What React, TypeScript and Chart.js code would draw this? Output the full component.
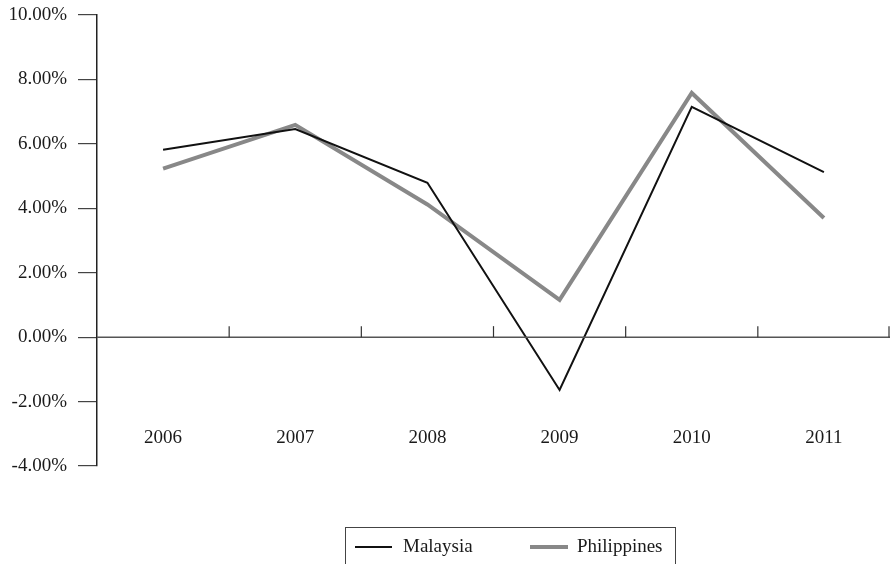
import React, { useEffect, useRef } from "react";
import { Chart, registerables } from "chart.js";

Chart.register(...registerables);

const years = ["2006", "2007", "2008", "2009", "2010", "2011"];
const malaysia = [5.82, 6.46, 4.79, -1.64, 7.15, 5.12];
const philippines = [5.23, 6.59, 4.12, 1.16, 7.58, 3.7];
const yTicks = [-4, -2, 0, 2, 4, 6, 8, 10];
const seriesNames = ["Malaysia", "Philippines"];

const FONT = '"Liberation Serif", "Times New Roman", serif';

const axisPlugin = {
  id: "customAxis",
  afterDatasetsDraw(chart: any) {
    const { ctx, chartArea, scales } = chart;
    const x = scales.x;
    const y = scales.y;
    const y0 = y.getPixelForValue(0);
    ctx.save();
    ctx.strokeStyle = "#555";
    ctx.lineWidth = 1.5;
    ctx.beginPath();
    ctx.moveTo(chartArea.left, y0);
    ctx.lineTo(chartArea.right, y0);
    ctx.stroke();
    ctx.strokeStyle = "#333";
    ctx.lineWidth = 1.2;
    for (let i = 0; i < years.length; i++) {
      const bx =
        i < years.length - 1
          ? (x.getPixelForValue(i) + x.getPixelForValue(i + 1)) / 2
          : chartArea.right - 1;
      ctx.beginPath();
      ctx.moveTo(bx, y0);
      ctx.lineTo(bx, y0 - 11);
      ctx.stroke();
    }
    ctx.fillStyle = "#1a1a1a";
    ctx.font = `19px ${FONT}`;
    ctx.textAlign = "center";
    ctx.textBaseline = "middle";
    years.forEach((lab, i) => {
      ctx.fillText(lab, x.getPixelForValue(i), chartArea.bottom - 28);
    });
    const lx = 345;
    const lw = 330;
    const ly = chartArea.bottom + 61;
    ctx.strokeStyle = "#444";
    ctx.lineWidth = 1;
    ctx.strokeRect(lx + 0.5, ly + 0.5, lw, 60);
    const cy = ly + 20;
    ctx.textAlign = "left";
    ctx.lineWidth = 2;
    ctx.strokeStyle = "#111";
    ctx.beginPath();
    ctx.moveTo(355, cy);
    ctx.lineTo(392, cy);
    ctx.stroke();
    ctx.fillText(seriesNames[0], 403, cy);
    ctx.lineWidth = 4;
    ctx.strokeStyle = "#888";
    ctx.beginPath();
    ctx.moveTo(530, cy);
    ctx.lineTo(568, cy);
    ctx.stroke();
    ctx.fillText(seriesNames[1], 577, cy);
    ctx.restore();
  },
};

export default function App() {
  const ref = useRef<HTMLCanvasElement>(null);
  useEffect(() => {
    document.body.style.margin = "0";
    const chart = new Chart(ref.current!, {
      type: "line",
      data: {
        labels: years,
        datasets: [
          {
            label: seriesNames[0],
            data: malaysia,
            borderColor: "#111",
            borderWidth: 2,
            pointRadius: 0,
            tension: 0,
          },
          {
            label: seriesNames[1],
            data: philippines,
            borderColor: "#888",
            borderWidth: 4,
            pointRadius: 0,
            tension: 0,
          },
        ],
      },
      options: {
        animation: false,
        responsive: false,
        layout: { padding: { top: 15, bottom: 98, left: 8, right: 2 } },
        plugins: { legend: { display: false }, tooltip: { enabled: false } },
        scales: {
          x: {
            display: false,
            offset: true,
          },
          y: {
            min: -4,
            max: 10,
            afterBuildTicks: (scale: any) => {
              scale.ticks = yTicks.map((v) => ({ value: v }));
            },
            afterFit: (scale: any) => {
              scale.width = 89;
              scale.paddingTop = 0;
              scale.paddingBottom = 0;
            },
            border: { display: true, color: "#222", width: 1.5 },
            grid: {
              drawOnChartArea: false,
              drawTicks: true,
              tickLength: 19,
              color: "#444",
              lineWidth: 1.2,
            },
            ticks: {
              padding: 11,
              color: "#1a1a1a",
              font: { family: FONT, size: 19 },
              callback: (v: any) => Number(v).toFixed(2) + "%",
            },
          },
        },
      },
      plugins: [axisPlugin],
    });
    return () => chart.destroy();
  }, []);
  return <canvas ref={ref} width={892} height={564} style={{ display: "block" }} />;
}
